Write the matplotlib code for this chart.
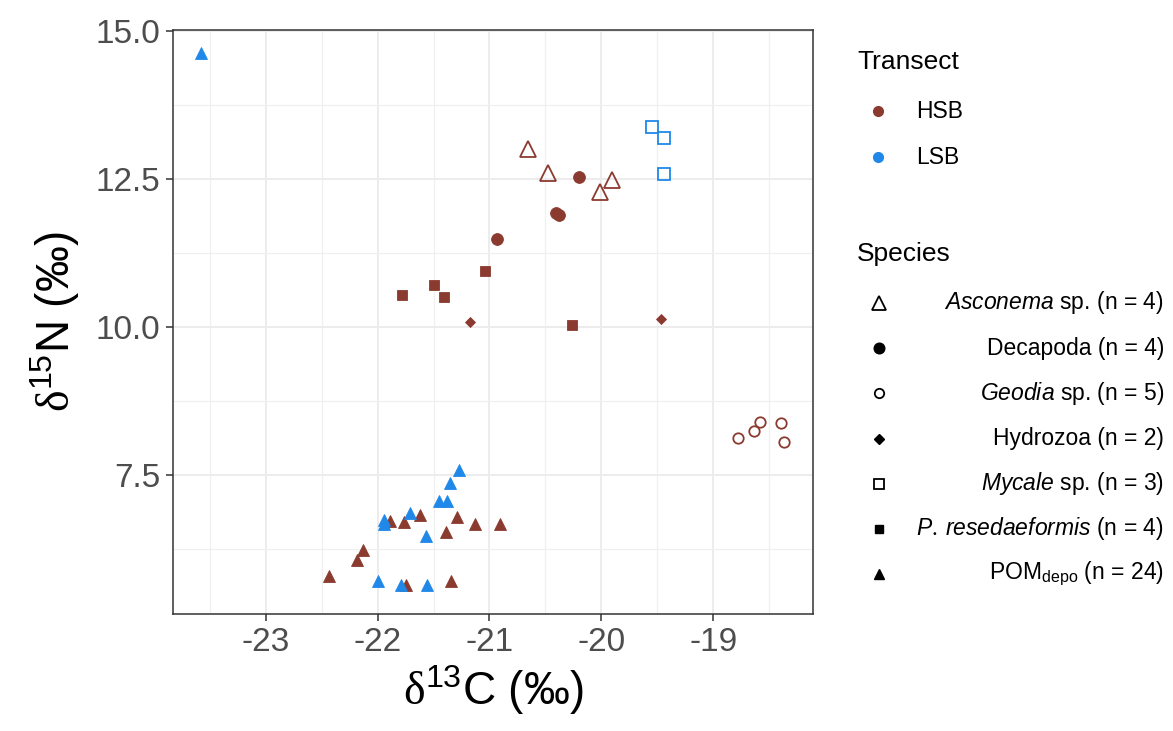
import matplotlib
matplotlib.use("Agg")
import matplotlib.pyplot as plt
from matplotlib.ticker import MultipleLocator, FormatStrFormatter

plt.rcParams['font.family'] = ['Liberation Sans', 'DejaVu Sans']
plt.rcParams['mathtext.fontset'] = 'custom'
plt.rcParams['mathtext.rm'] = 'Liberation Serif'
plt.rcParams['mathtext.sf'] = 'Liberation Sans'
plt.rcParams['mathtext.it'] = 'Liberation Sans:italic'
plt.rcParams['mathtext.bf'] = 'Liberation Sans:bold'

# data (d13C, d15N)
asconema_x = [-20.66, -20.48, -19.91, -20.01]
asconema_y = [13.00, 12.60, 12.48, 12.27]
decapoda_x = [-20.20, -20.41, -20.38, -20.93]
decapoda_y = [12.53, 11.93, 11.89, 11.49]
geodia_x = [-18.78, -18.64, -18.58, -18.40, -18.37]
geodia_y = [8.12, 8.25, 8.40, 8.38, 8.06]
hydrozoa_x = [-21.17, -19.47]
hydrozoa_y = [10.09, 10.14]
mycale_x = [-19.55, -19.44, -19.44]
mycale_y = [13.37, 13.19, 12.58]
presed_x = [-21.78, -21.50, -21.41, -21.04, -20.26]
presed_y = [10.53, 10.71, 10.51, 10.95, 10.04]
pom_hsb_x = [-21.89, -21.76, -21.62, -21.29, -21.13, -20.91, -21.39, -21.75,
             -21.34, -22.43, -22.18, -22.13]
pom_hsb_y = [6.72, 6.70, 6.83, 6.80, 6.67, 6.67, 6.54, 5.64, 5.71, 5.79, 6.06, 6.23]
pom_lsb_x = [-23.58, -21.27, -21.35, -21.45, -21.38, -21.71, -21.94, -21.94,
             -21.57, -22.00, -21.79, -21.56]
pom_lsb_y = [14.62, 7.58, 7.37, 7.06, 7.06, 6.86, 6.75, 6.68, 6.48, 5.71, 5.64, 5.64]

transects = ['HSB', 'LSB']
species_labels = [r'$\mathit{Asconema}$ sp. (n = 4)',
                  'Decapoda (n = 4)',
                  r'$\mathit{Geodia}$ sp. (n = 5)',
                  'Hydrozoa (n = 2)',
                  r'$\mathit{Mycale}$ sp. (n = 3)',
                  r'$\mathit{P.\:resedaeformis}$ (n = 4)',
                  r'POM$_{\mathsf{depo}}$ (n = 24)']

col = {'HSB': '#8B3A2F', 'LSB': '#1F88E8'}

# marker styles: (marker, size, filled)
styles = [('^', 11, False), ('o', 8.5, True), ('o', 7.5, False), ('D', 5.5, True),
          ('s', 8.5, False), ('s', 7, True), ('^', 8.5, True)]

fig = plt.figure(figsize=(11.73, 7.31), dpi=100)
ax = fig.add_axes([0.1472, 0.160, 0.5462, 0.799])


def pts(x, y, style, c):
    m, s, filled = style
    if filled:
        ax.plot(x, y, ls='none', marker=m, ms=s, mfc=c, mec=c, mew=0.6, zorder=3)
    else:
        ax.plot(x, y, ls='none', marker=m, ms=s, mfc='none', mec=c, mew=1.3, zorder=3)


pts(asconema_x, asconema_y, styles[0], col['HSB'])
pts(decapoda_x, decapoda_y, styles[1], col['HSB'])
pts(geodia_x, geodia_y, styles[2], col['HSB'])
pts(hydrozoa_x, hydrozoa_y, styles[3], col['HSB'])
pts(mycale_x, mycale_y, styles[4], col['LSB'])
pts(presed_x, presed_y, styles[5], col['HSB'])
pts(pom_hsb_x, pom_hsb_y, styles[6], col['HSB'])
pts(pom_lsb_x, pom_lsb_y, styles[6], col['LSB'])

ax.set_xlim(-23.83, -18.107)
ax.set_ylim(5.155, 15.01)
ax.xaxis.set_major_locator(MultipleLocator(1))
ax.xaxis.set_minor_locator(MultipleLocator(0.5))
ax.yaxis.set_major_locator(MultipleLocator(2.5))
ax.yaxis.set_minor_locator(MultipleLocator(1.25))
ax.yaxis.set_major_formatter(FormatStrFormatter('%.1f'))
ax.xaxis.set_major_formatter(FormatStrFormatter('%d'))
ax.grid(which='major', color='#EBEBEB', lw=1.3, zorder=0)
ax.grid(which='minor', color='#F0F0F0', lw=0.9, zorder=0)
ax.set_axisbelow(True)
for sp in ax.spines.values():
    sp.set_color('#333333')
    sp.set_linewidth(1.1)
ax.tick_params(which='major', length=5, width=1.1, color='#333333',
               labelsize=24, labelcolor='#4D4D4D', pad=4)
ax.tick_params(which='minor', length=0)

ax.set_xlabel(r'$\mathrm{\delta}^{\mathsf{13}}$C (‰)', fontsize=33, labelpad=4)
ax.set_ylabel(r'$\mathrm{\delta}^{\mathsf{15}}$N (‰)', fontsize=33, labelpad=10)

# legends, drawn in a pixel-space overlay
lg = fig.add_axes([0, 0, 1, 1])
lg.set_xlim(0, 1173)
lg.set_ylim(731, 0)
lg.axis('off')

lg.text(857, 62, 'Transect', fontsize=19, ha='left', va='center')
for i, t in enumerate(transects):
    yy = 111 + i * 46
    lg.plot([878], [yy], ls='none', marker='o', ms=7, color=col[t])
    lg.text(916, yy, t, fontsize=16.5, ha='left', va='center')

lg.text(857, 254, 'Species', fontsize=19, ha='left', va='center')
for i, (lab, st) in enumerate(zip(species_labels, styles)):
    yy = 303 + i * 45.2
    m, s, filled = st
    if filled:
        lg.plot([879], [yy], ls='none', marker=m, ms=s * 0.9, mfc='black', mec='black')
    else:
        lg.plot([879], [yy], ls='none', marker=m, ms=s * 0.9, mfc='none', mec='black', mew=1.3)
    lg.text(1164, yy, lab, fontsize=16.5, ha='right', va='center')

fig.savefig('out.png', dpi=100)
